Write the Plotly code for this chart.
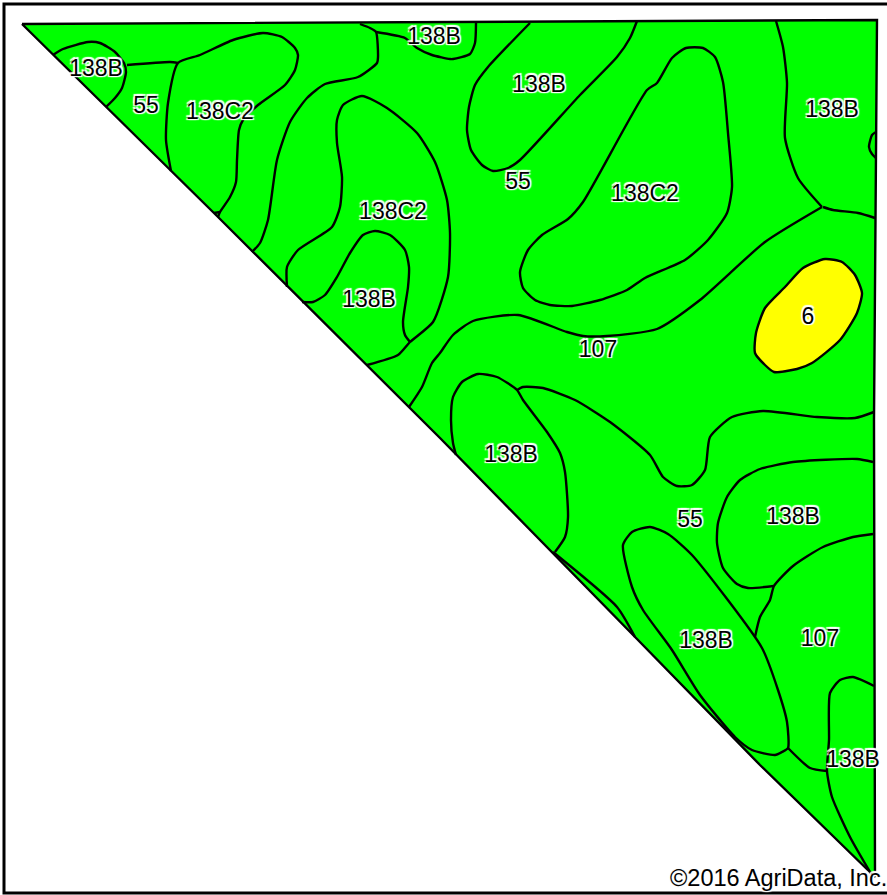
import plotly.graph_objects as go

# Field outline and soil map-unit boundaries (map x / y)
field_x = [22, 217, 440, 553, 637, 760, 875, 874, 877, 22]
field_y = [24, 216, 438, 553, 639, 765, 877, 420, 20, 24]
frame_x = [887, 4, 4, 887]
frame_y = [4, 4, 893, 893]

soil6_x = [825, 842, 855, 862, 857, 840, 812, 797, 774, 765, 755, 756, 765, 785, 803, 825]
soil6_y = [259, 262, 275, 293, 313, 340, 363, 369, 372, 365, 353, 333, 308, 287, 268, 259]

a_x = [53, 63, 88, 100, 115, 124, 126, 122, 115, 106]
a_y = [55, 49, 42, 43, 52, 63, 72, 88, 98, 107]
b_x = [127, 170, 178]
b_y = [65, 62, 63]
c_x = [171, 166, 168, 178, 200, 233, 263, 282, 295, 298, 295, 285, 258, 243, 239, 237, 236, 230, 220, 218]
c_y = [171, 140, 103, 63, 55, 40, 33, 37, 48, 55, 70, 85, 105, 120, 130, 160, 182, 197, 212, 217]
c2_x = [214, 220]
c2_y = [213, 212]
d_x = [252, 260, 268, 277, 290, 307, 325, 358, 377, 378, 376, 370, 360]
d_y = [252, 243, 220, 160, 122, 98, 84, 77, 63, 57, 32, 28, 24]
d2_x = [376, 405, 417, 432, 450, 453, 470, 475, 476]
d2_y = [32, 38, 48, 55, 59, 59, 54, 43, 23]
e_x = [287, 287, 298, 332, 340, 342, 337, 337, 343, 362, 387, 417, 435, 447, 450, 448, 433, 410, 398, 367]
e_y = [287, 267, 250, 227, 207, 177, 143, 120, 105, 96, 108, 133, 162, 200, 233, 277, 322, 342, 355, 365]
f_x = [302, 313, 325, 337, 350, 363, 375, 390, 405, 409, 408, 403, 405, 410]
f_y = [302, 302, 295, 277, 253, 235, 231, 235, 250, 267, 287, 322, 335, 342]
g_x = [409, 422, 432, 440, 453, 473, 518, 567, 583, 607, 657, 700, 765, 822]
g_y = [407, 387, 363, 353, 335, 321, 315, 332, 336, 336, 329, 300, 242, 207]
g2_x = [822, 798, 785, 787, 783, 776]
g2_y = [207, 178, 138, 83, 47, 21]
g3_x = [823, 833, 858, 875]
g3_y = [207, 210, 213, 218]
h_x = [530, 488, 475, 469, 467, 471, 482, 493, 508, 520, 580, 617, 630, 637]
h_y = [23, 67, 85, 107, 130, 150, 165, 171, 168, 160, 95, 57, 38, 21]
i_x = [647, 657, 672, 686, 703, 715, 723, 728, 732, 727, 708, 685, 645, 627, 600, 572, 550, 535, 523, 520, 528, 542, 568, 583, 647]
i_y = [90, 83, 58, 48, 48, 57, 82, 133, 187, 213, 240, 260, 278, 290, 300, 306, 305, 300, 288, 272, 250, 235, 219, 202, 90]
j_x = [876, 872, 869, 872, 876]
j_y = [132, 135, 147, 154, 158]
l_x = [456, 453, 451, 453, 462, 478, 497, 517, 523, 547, 560, 565, 568, 565, 555]
l_y = [455, 443, 420, 397, 382, 374, 377, 390, 400, 432, 453, 472, 517, 537, 552]
m_x = [517, 523, 543, 575, 610, 650, 663, 677, 692, 705, 710, 732, 763, 817, 855, 874]
m_y = [390, 387, 388, 400, 422, 455, 477, 486, 485, 470, 437, 417, 411, 417, 418, 412]
n_x = [873, 857, 793, 760, 740, 727, 718, 717, 723, 737, 748, 774]
n_y = [462, 459, 462, 469, 480, 497, 523, 543, 568, 584, 588, 586]
o_x = [873, 853, 823, 793, 774, 770, 760, 755]
o_y = [534, 537, 547, 566, 586, 600, 617, 637]
p_x = [735, 700, 672, 643, 632, 623, 632, 650, 668, 692, 762, 778, 787, 788, 782, 775, 752, 735]
p_y = [737, 695, 650, 610, 587, 545, 532, 527, 534, 555, 648, 690, 722, 748, 752, 755, 750, 737]
q1_x = [788, 810, 827]
q1_y = [748, 768, 771]
q2_x = [874, 853, 840, 830, 829, 827, 832, 850, 873]
q2_y = [686, 677, 680, 693, 740, 771, 797, 837, 877]
s_x = [553, 617, 635]
s_y = [552, 607, 637]

boundaries = [(a_x, a_y), (b_x, b_y), (c_x, c_y), (c2_x, c2_y), (d_x, d_y), (d2_x, d2_y), (e_x, e_y),
              (f_x, f_y), (g_x, g_y), (g2_x, g2_y), (g3_x, g3_y), (h_x, h_y), (i_x, i_y), (j_x, j_y),
              (l_x, l_y), (m_x, m_y), (n_x, n_y), (o_x, o_y), (p_x, p_y), (q1_x, q1_y), (q2_x, q2_y), (s_x, s_y)]

label_text = ["138B", "55", "138C2", "138B", "138B", "55", "138C2", "138B", "138C2", "138B", "6", "107",
              "138B", "55", "138B", "138B", "107", "138B"]
label_x = [96, 146, 220, 434, 539, 518, 393, 369, 645, 832, 808, 598, 511, 690, 793, 706, 820, 853]
label_y = [70, 107, 113, 38, 86, 183, 213, 301, 195, 111, 318, 351, 456, 521, 518, 642, 640, 761]
credit_text = ["©2016 AgriData, Inc."]
credit_x = [670]
credit_y = [880]

HALO = ("-1.5px -1.5px 1px #fff, 1.5px -1.5px 1px #fff, -1.5px 1.5px 1px #fff, 1.5px 1.5px 1px #fff, "
        "0 0 2px #fff, 0 0 1px #000")

fig = go.Figure()
fig.add_trace(go.Scatter(x=frame_x, y=frame_y, mode="lines", line=dict(color="black", width=3)))
fig.add_trace(go.Scatter(x=field_x, y=field_y, mode="lines", fill="toself", fillcolor="#00ff00",
                         line=dict(color="black", width=2.4)))
fig.add_trace(go.Scatter(x=soil6_x, y=soil6_y, mode="lines", fill="toself", fillcolor="#ffff00",
                         line=dict(color="black", width=2.4, shape="spline", smoothing=0.6)))
for bx, by in boundaries:
    fig.add_trace(go.Scatter(x=bx, y=by, mode="lines",
                             line=dict(color="black", width=2.4, shape="spline", smoothing=0.6)))
fig.add_trace(go.Scatter(x=label_x, y=label_y, text=label_text, mode="text", textposition="middle center",
                         textfont=dict(family="Liberation Sans", size=23, color="black", shadow=HALO)))
fig.add_trace(go.Scatter(x=credit_x, y=credit_y, text=credit_text, mode="text", textposition="middle right",
                         cliponaxis=False,
                         textfont=dict(family="Liberation Sans", size=23.5, color="black", shadow=HALO)))

fig.update_layout(width=887, height=895, autosize=False, showlegend=False, hovermode=False,
                  margin=dict(l=0, r=0, t=0, b=0), paper_bgcolor="white", plot_bgcolor="white",
                  xaxis=dict(range=[0, 887], visible=False, fixedrange=True),
                  yaxis=dict(range=[895, 0], visible=False, fixedrange=True))

fig.write_html("out.html", config={"displayModeBar": False},
               post_script="document.body.style.margin='0';document.body.style.overflow='hidden';")
